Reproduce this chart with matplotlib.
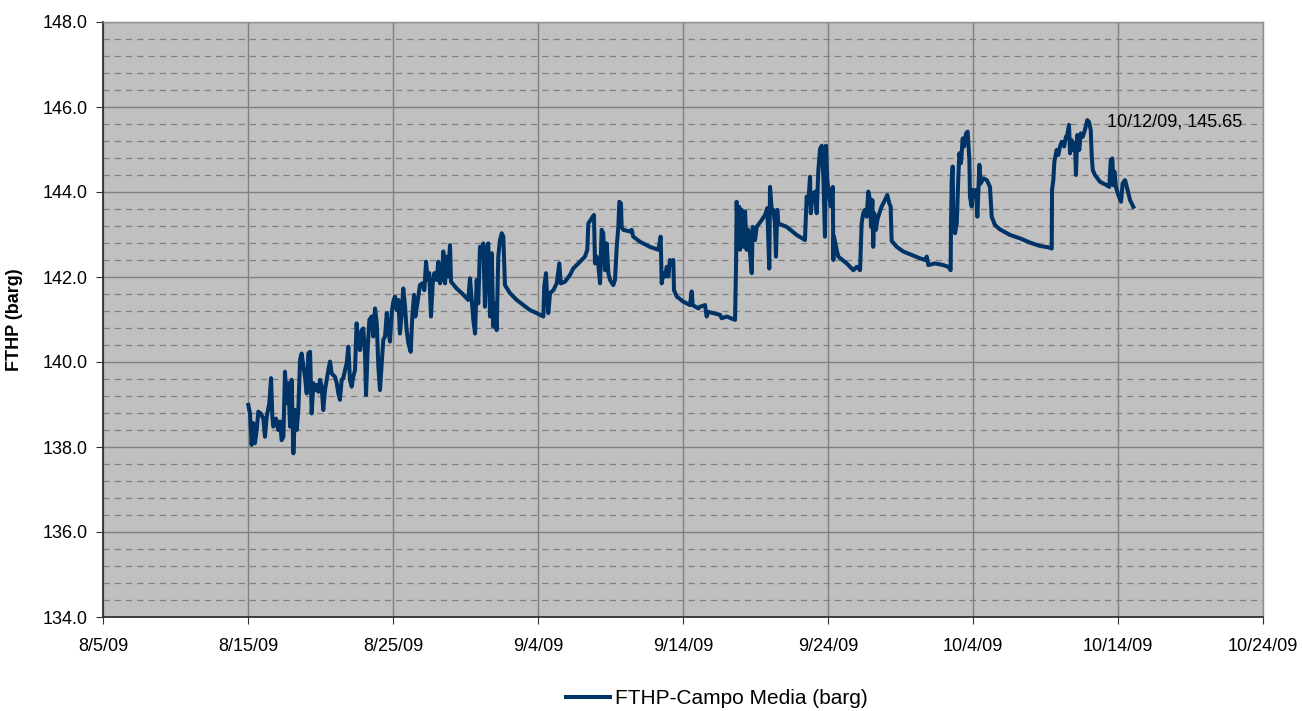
import numpy as np
import matplotlib
matplotlib.use("Agg")
import matplotlib.pyplot as plt
import matplotlib.dates as mdates
from matplotlib.ticker import MultipleLocator, FormatStrFormatter
from datetime import datetime

plt.rcParams['font.family'] = ['Liberation Sans', 'DejaVu Sans']

# days since 8/15/09 and FTHP readings (barg)
dias = [
    0.02, 0.14, 0.25, 0.37, 0.48, 0.60, 0.71, 0.87, 1.06, 1.17, 1.29, 1.47, 1.59, 1.68, 1.75,
    1.93, 2.09, 2.21, 2.32, 2.44, 2.55, 2.67, 2.78, 2.90, 3.01, 3.13, 3.24, 3.36, 3.47, 3.59,
    3.70, 3.82, 3.93, 4.05, 4.16, 4.28, 4.39, 4.51, 4.62, 4.74, 4.85, 4.97, 5.08, 5.19, 5.31,
    5.43, 5.54, 5.66, 5.77, 6.00, 6.12, 6.23, 6.34, 6.46, 6.57, 6.69, 6.81, 6.92, 7.03, 7.15,
    7.26, 7.38, 7.49, 7.61, 7.72, 7.84, 7.95, 8.07, 8.14, 8.25, 8.37, 8.53, 8.64, 8.76, 8.88,
    8.99, 9.10, 9.22, 9.33, 9.45, 9.57, 9.68, 9.79, 9.91, 10.02, 10.14, 10.26, 10.37,
    10.48, 10.60, 10.71, 10.83, 10.94, 11.06, 11.22, 11.33, 11.45, 11.54, 11.68, 11.86, 12.02,
    12.16, 12.28, 12.39, 12.50, 12.62, 12.74, 12.85, 13.01, 13.12, 13.24, 13.36, 13.47, 13.59,
    13.70, 13.81, 13.93, 14.00, 14.39, 14.74, 15.19, 15.31, 15.43, 15.54, 15.66, 15.77, 15.88,
    16.00, 16.12, 16.23, 16.34, 16.46, 16.57, 16.69, 16.81, 16.92, 17.03, 17.15, 17.26, 17.38,
    17.50, 17.61, 17.72, 18.07, 18.53, 18.99, 19.45, 19.91, 20.37, 20.43, 20.55, 20.64,
    20.71, 20.83, 21.06, 21.29, 21.47, 21.57, 21.86, 22.21, 22.43, 22.90, 23.24, 23.40, 23.47,
    23.63, 23.77, 23.86, 23.93, 24.05, 24.16, 24.28, 24.39, 24.50, 24.62, 24.74, 24.85, 24.97,
    25.19, 25.31, 25.43, 25.54, 25.61, 25.72, 25.77, 25.88, 26.34, 26.46, 26.57, 27.03, 27.72,
    28.30, 28.46, 28.53, 28.64, 28.76, 28.88, 28.99, 29.10, 29.22, 29.33, 29.38, 29.57, 30.02,
    30.48, 30.60, 30.67, 31.06,
    31.17, 31.52, 31.63, 31.74, 32.09, 32.55, 32.67, 33.01, 33.59, 33.66, 33.70, 33.81, 33.88,
    33.93, 34.05, 34.16, 34.28, 34.39, 34.50, 34.62, 34.74, 34.81, 34.97, 35.08, 35.43, 35.66,
    35.81, 35.95, 36.00, 36.12, 36.23, 36.34, 36.41, 36.50, 36.57, 37.15, 37.84, 38.41, 38.53,
    38.64, 38.76, 38.81, 38.95, 39.03, 39.12, 39.22, 39.33, 39.45, 39.57, 39.68, 39.72, 39.79,
    39.86, 39.95, 40.09, 40.19, 40.33, 40.37, 40.41, 40.60, 40.71,
    41.29, 41.75, 41.98, 42.21, 42.32, 42.43, 42.55, 42.67, 42.78, 42.90, 42.97, 43.06, 43.12,
    43.19, 43.31, 43.40, 43.54, 43.70, 43.93, 44.09, 44.23, 44.32, 44.39, 44.74, 45.19, 45.77,
    46.34, 46.69, 46.81, 46.92, 47.38, 47.95, 48.30, 48.46, 48.48, 48.53, 48.60, 48.64, 48.76,
    48.88, 48.99, 49.06, 49.17, 49.29, 49.38, 49.52, 49.63, 49.75, 49.79, 49.91, 49.98, 50.07,
    50.21, 50.30, 50.44, 50.53, 50.71, 50.95, 51.17, 51.29, 51.52, 51.86,
    52.55, 53.24, 53.93, 54.62, 55.19, 55.43, 55.45, 55.54, 55.61, 55.77, 55.88, 56.00, 56.12,
    56.28, 56.41, 56.50, 56.62, 56.69, 56.81, 56.92, 57.03, 57.10, 57.19, 57.33, 57.43, 57.57,
    57.72, 57.88, 58.00, 58.12, 58.19, 58.26, 58.41, 58.76, 59.22, 59.40, 59.50, 59.61, 59.68,
    59.75, 59.86, 60.02, 60.21, 60.32, 60.48, 60.52, 60.83, 61.06,
]

fthp = [
    138.99, 138.79, 138.05, 138.56, 138.09, 138.40, 138.83, 138.79, 138.67, 138.24, 138.71, 139.03, 139.62, 138.71, 138.48,
    138.67, 138.40, 138.60, 138.16, 138.24, 139.77, 139.03, 139.50, 138.48, 139.58, 137.85, 138.87, 138.40, 138.87, 140.05,
    140.20, 139.89, 139.65, 139.26, 140.20, 140.24, 138.79, 139.50, 139.34, 139.46, 139.30, 139.58, 139.42, 138.87, 139.34,
    139.58, 139.81, 140.01, 139.73, 139.65, 139.50, 139.26, 139.11, 139.58, 139.62, 139.81, 139.97, 140.36, 139.58, 139.42,
    139.65, 139.81, 140.91, 140.44, 140.28, 140.75, 140.79, 140.20, 139.22, 140.28, 140.99, 141.07, 140.60, 141.26, 140.91,
    139.89, 139.34, 139.97, 140.52, 140.60, 141.15, 140.75, 140.48, 141.15, 141.42, 141.54, 141.22, 141.46,
    140.67, 141.15, 141.73, 141.30, 140.75, 140.44, 140.24, 141.07, 141.58, 141.07, 141.38, 141.81, 141.85,
    141.69, 142.36, 141.93, 142.09, 141.07, 141.85, 142.09, 141.93, 142.36, 141.85, 141.97, 142.60, 141.85,
    142.48, 142.01, 142.75, 141.89, 141.73, 141.62, 141.46, 141.97, 141.46, 140.99, 140.67, 141.93, 141.38,
    142.71, 142.56, 142.79, 141.30, 142.64, 142.79, 141.07, 142.56, 140.83, 141.38, 140.75, 142.48, 142.87,
    143.03, 142.95, 141.81, 141.62, 141.46, 141.34, 141.22, 141.15, 141.07, 141.77, 142.09, 141.46,
    141.15, 141.62, 141.69, 141.85, 142.32, 141.85, 141.89, 142.05, 142.20, 142.36, 142.48, 142.64, 143.26,
    143.34, 143.42, 143.46, 142.32, 142.48, 142.28, 141.85, 143.11, 143.03, 142.16, 142.79, 142.09, 141.93,
    141.81, 141.93, 142.71, 143.18, 143.77, 143.73, 143.18, 143.11, 143.07, 143.11, 142.95, 142.83, 142.71,
    142.64, 142.95, 141.85, 142.09, 142.01, 142.24, 142.01, 142.40, 142.32, 142.40, 141.69, 141.54, 141.42,
    141.34, 141.66, 141.34, 141.26,
    141.30, 141.34, 141.07, 141.18, 141.15, 141.11, 141.03, 141.07, 140.99, 142.32, 143.77, 142.71, 143.65,
    142.64, 143.58, 142.71, 143.54, 142.64, 143.11, 142.56, 142.09, 143.18, 142.87, 143.18, 143.34, 143.46,
    143.62, 142.20, 144.12, 143.58, 143.58, 143.26, 142.48, 143.58, 143.26, 143.18, 142.99, 142.87, 143.89,
    143.73, 144.36, 143.50, 143.97, 143.81, 144.01, 143.50, 144.48, 145.01, 145.09, 144.36, 143.81, 142.95,
    145.09, 144.28, 143.89, 143.66, 144.12, 142.40, 142.95, 142.64, 142.48,
    142.32, 142.16, 142.24, 142.16, 143.26, 143.50, 143.58, 143.42, 144.01, 143.81, 143.18, 143.81, 142.71,
    143.50, 143.11, 143.34, 143.50, 143.66, 143.81, 143.93, 143.73, 143.66, 142.85, 142.71, 142.60, 142.52,
    142.44, 142.40, 142.48, 142.28, 142.32, 142.28, 142.24, 142.16, 143.18, 144.28, 144.60, 143.34, 143.03,
    143.26, 144.36, 144.91, 144.68, 145.26, 145.07, 145.38, 145.42, 144.75, 143.89, 143.66, 144.05, 143.89,
    144.05, 143.42, 144.64, 144.20, 144.32, 144.28, 144.12, 143.42, 143.22, 143.12,
    142.99, 142.91, 142.81, 142.73, 142.70, 142.67, 144.05, 144.28, 144.71, 144.99, 144.87, 145.07, 145.18,
    145.07, 145.30, 145.34, 145.58, 144.91, 145.22, 144.99, 145.15, 144.40, 145.34, 144.99, 145.38, 145.30,
    145.46, 145.69, 145.65, 145.46, 144.83, 144.52, 144.40, 144.24, 144.16, 144.12, 144.75, 144.79, 144.16,
    144.48, 144.12, 143.93, 143.77, 144.20, 144.28, 144.24, 143.81, 143.65,
]

fechas_ticks = [datetime(2009, 8, 5), datetime(2009, 8, 15), datetime(2009, 8, 25),
                datetime(2009, 9, 4), datetime(2009, 9, 14), datetime(2009, 9, 24),
                datetime(2009, 10, 4), datetime(2009, 10, 14), datetime(2009, 10, 24)]
etiquetas_x = ['8/5/09', '8/15/09', '8/25/09', '9/4/09', '9/14/09', '9/24/09',
               '10/4/09', '10/14/09', '10/24/09']

pico_dia = 58.0
pico_valor = 145.65
pico_texto = "10/12/09, 145.65"

inicio = mdates.date2num(datetime(2009, 8, 15))
x = inicio + np.array(dias)
y = np.array(fthp)
ticks_x = mdates.date2num(fechas_ticks)

fig = plt.figure(figsize=(13.02, 7.11), dpi=100)
ax = fig.add_axes([103 / 1302, 1 - 617 / 711, (1263 - 103) / 1302, (617 - 22) / 711])
ax.set_facecolor('#c0c0c0')

linha, = ax.plot(x, y, color='#003366', lw=2.9, label='FTHP-Campo Media (barg)', zorder=3)

ax.set_xlim(ticks_x[0], ticks_x[-1])
ax.set_ylim(134, 148)

ax.set_xticks(ticks_x)
ax.set_xticklabels(etiquetas_x)
ax.yaxis.set_major_locator(MultipleLocator(2))
ax.yaxis.set_minor_locator(MultipleLocator(0.4))
ax.yaxis.set_major_formatter(FormatStrFormatter('%.1f'))

ax.grid(True, which='major', axis='both', color='#808080', lw=1.0, zorder=1)
ax.grid(True, which='minor', axis='y', color='#808080', lw=0.9, ls=(0, (5, 4)), zorder=1)
ax.set_axisbelow(True)

ax.tick_params(axis='both', which='major', labelsize=13, direction='out', length=5,
               color='#303030', pad=6)
ax.tick_params(axis='y', which='minor', length=0)
ax.tick_params(axis='x', pad=10)

for s in ['left', 'bottom']:
    ax.spines[s].set_color('#303030')
    ax.spines[s].set_linewidth(1.3)
for s in ['top', 'right']:
    ax.spines[s].set_color('#909090')
    ax.spines[s].set_linewidth(1.0)

ax.set_ylabel('FTHP (barg)', fontsize=13, fontweight='bold', labelpad=14)

ax.annotate(pico_texto, xy=(inicio + pico_dia, pico_valor), xytext=(13, 0),
            textcoords='offset points', fontsize=13, va='center', ha='left')

fig.legend(handles=[linha], loc='center', bbox_to_anchor=(717 / 1302, 1 - 699 / 711),
           frameon=False, fontsize=15, handlelength=2.1, handletextpad=0.25,
           borderpad=0.1)

fig.savefig('out.png', dpi=100)
